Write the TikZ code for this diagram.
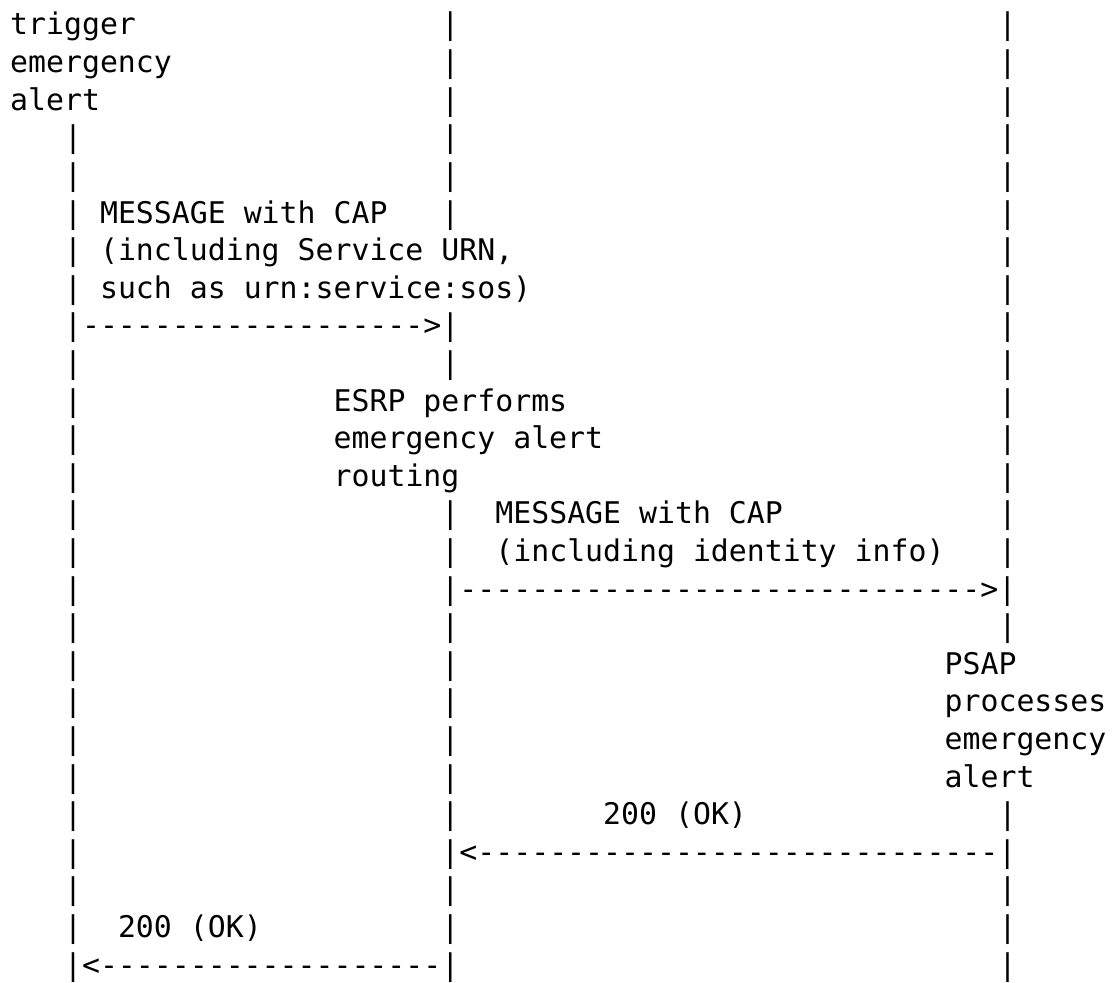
\documentclass[tikz,border=0pt]{standalone}
\usepackage{fontspec}
\setmonofont{DejaVu Sans Mono}
\usepackage{tikz}
\usetikzlibrary{positioning}

\begin{document}
\begin{tikzpicture}[
  x=8.985pt, y=-18.8pt,
  ascii/.style={anchor=base west, inner sep=0pt, font=\ttfamily\fontsize{14.92pt}{18.8pt}\selectfont},
  bar/.style={ascii},
  arrowline/.style={ascii},
]
\useasboundingbox (-0.545,0.069) rectangle (61.78,26.21);

% Lifelines
\foreach \r in {4,5,6,7,8,10,11,12,13,14,15,16,17,18,19,20,21,22,23,24,25}
  \node[bar] (ua-\r) at (3,\r) {|};
\foreach \r in {1,2,3,4,5,6,10,14,15,17,18,19,20,21,22,24,25}
  \node[bar] (esrp-\r) at (24,\r) {|};
\foreach \r in {1,2,3,4,5,6,7,8,9,10,11,12,13,14,15,17,22,24,25,26}
  \node[bar] (psap-\r) at (55,\r) {|};

% Trigger
\node[ascii] (trigger) at (0,1) {trigger};
\node[ascii] (trigemerg) at (0,2) {emergency};
\node[ascii] (trigalert) at (0,3) {alert};

% First MESSAGE
\node[ascii] (msg1) at (5,6) {MESSAGE with CAP};
\node[ascii] (msg1inc) at (5,7) {(including Service URN,};
\node[ascii] (msg1urn) at (5,8) {such as urn:service:sos)};
\node[arrowline] (msg1arr) at (3,9) {|------------------->|};

% ESRP routing
\node[ascii] (esrp) at (18,11) {ESRP performs};
\node[ascii] (esrpalert) at (18,12) {emergency alert};
\node[ascii] (esrprout) at (18,13) {routing};

% Second MESSAGE
\node[ascii] (msg2) at (27,14) {MESSAGE with CAP};
\node[ascii] (msg2inc) at (27,15) {(including identity info)};
\node[arrowline] (msg2arr) at (24,16) {|----------------------------->|};

% PSAP processing
\node[ascii] (psap) at (52,18) {PSAP};
\node[ascii] (psapproc) at (52,19) {processes};
\node[ascii] (psapemerg) at (52,20) {emergency};
\node[ascii] (psapalert) at (52,21) {alert};

% Responses
\node[ascii] (ok2) at (33,22) {200 (OK)};
\node[arrowline] (ok2arr) at (24,23) {|<-----------------------------|};
\node[ascii] (ok1) at (6,25) {200 (OK)};
\node[arrowline] (ok1arr) at (3,26) {|<-------------------|};

\end{tikzpicture}
\end{document}
